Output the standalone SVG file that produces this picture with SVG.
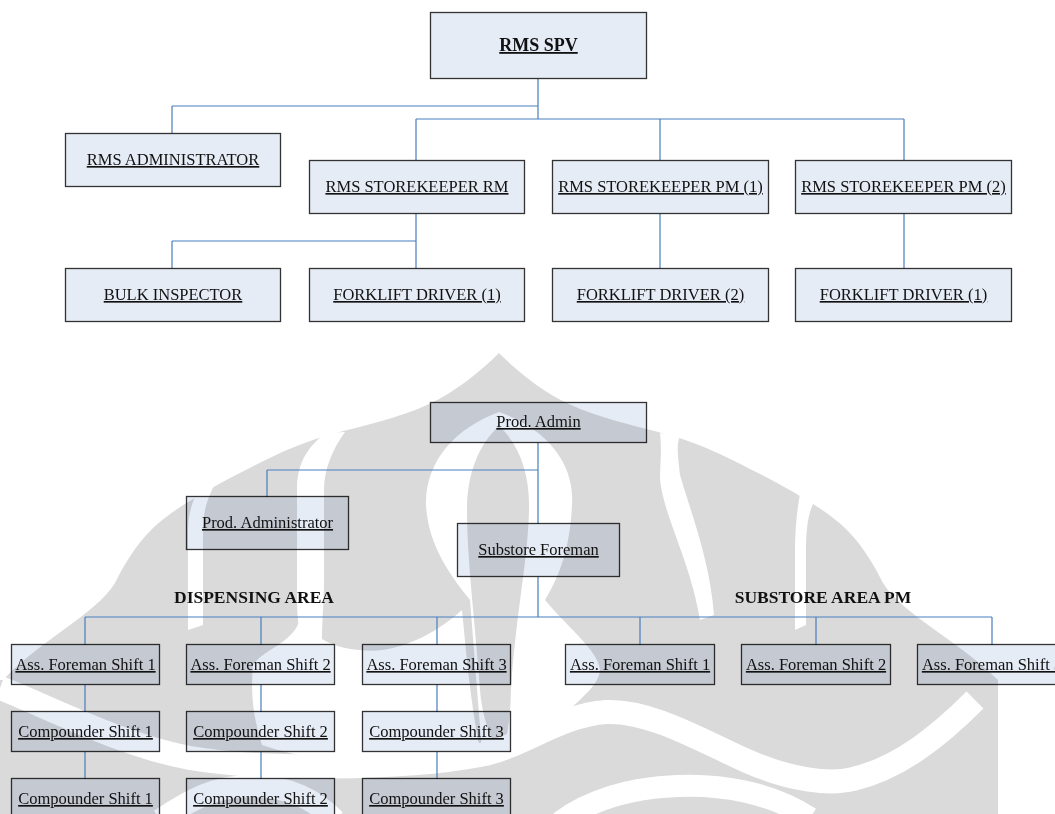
<svg xmlns="http://www.w3.org/2000/svg" width="1055" height="814" viewBox="0 0 1055 814">
<style>
.box{fill:#e6ecf6;stroke:#333;stroke-width:1.3;mix-blend-mode:multiply}
.t{font-family:"Liberation Serif","Times New Roman",serif;font-size:16.5px;fill:#111;text-anchor:middle;text-decoration:underline}
.tb{font-family:"Liberation Serif","Times New Roman",serif;font-size:18px;font-weight:bold;fill:#111;text-anchor:middle;text-decoration:underline}
.lbl{font-family:"Liberation Serif","Times New Roman",serif;font-size:17.5px;font-weight:bold;fill:#111;text-anchor:middle}
.ln{fill:none;stroke:#4a7ebb;stroke-width:1.2}
.wm{fill:#dadada}
.wg{fill:#fff}
.ww{fill:none;stroke:#fff}
</style>
<rect width="1055" height="814" fill="#fff"/>
<g id="watermark">
<path class="wm" d="M499,353 C480,372 455,392 429,404 C400,418 365,425 329,435 C290,446 262,462 236,475 C200,494 172,510 152,529 C135,546 124,565 115,583 C95,615 40,640 3,680 L0,680 L0,814 L998,814 L998,680 C958,640 903,615 883,583 C874,565 863,546 846,529 C826,510 798,494 762,475 C736,462 708,446 669,435 C633,425 598,418 569,404 C543,392 518,372 499,353 Z"/>
<path class="wg" d="M325,433 C305,450 297,465 297,490 L297,600 C297,620 300,640 305,650 L322,640 C322,620 324,600 324,583 L324,490 C324,470 332,450 345,432 Z"/>
<path class="wg" d="M200,488 C192,500 188,515 188,530 L188,630 L203,625 L203,530 C203,515 206,500 215,484 Z"/>
<path class="wg" d="M660,433 C662,450 660,465 660,480 C665,520 690,560 700,620 L714,615 C710,560 690,510 680,475 C678,455 676,445 680,436 Z"/>
<path class="wg" d="M800,494 C797,510 795,530 795,550 L795,630 L806,625 L806,550 C806,530 808,512 815,500 Z"/>
<path class="wg" d="M499,412 C545,428 575,462 572,505 C570,548 560,575 545,600 C570,630 598,650 600,670 C598,690 575,700 540,740 L480,750 C470,700 466,650 462,610 C440,630 400,655 360,650 C330,648 310,635 300,615 C300,640 262,650 253,665 C250,700 255,722 262,745 C330,768 420,768 482,752 L470,600 C450,575 428,545 426,505 C425,462 455,428 499,412 Z"/>
<path class="wm" d="M499,426 C520,445 530,475 529,510 C528,560 515,620 511,690 C510,720 508,740 500,752 C490,740 482,715 480,690 C475,620 467,560 467,510 C467,475 478,445 499,426 Z"/>
<path class="ww" stroke-width="24" d="M0,688 C40,703 120,745 190,758 C260,770 400,770 480,755 C520,748 560,715 606,712 C650,710 700,740 747,761 C790,780 830,785 853,779 C900,768 940,735 975,700"/>
<path class="ww" stroke-width="22" d="M160,820 C190,800 215,786 250,786 C290,786 315,800 335,820"/>
<path class="ww" stroke-width="22" d="M560,822 C590,800 630,788 677,786 C720,784 770,792 810,818"/>
</g>
<g id="connectors">
<path class="ln" d="M538,79 V119 M172,106 H538 M416,119 H904 M416,119 V160 M660,119 V160 M904,119 V160 M172,106 V133 M416,214 V268 M172,241 H416 M172,241 V268 M660,214 V268 M904,214 V268"/>
<path class="ln" d="M538,443 V524 M267,470 H538 M267,470 V497 M538,577 V617 M85,617 H992 M85,617 V645 M261,617 V645 M437,617 V645 M640,617 V645 M816,617 V645 M992,617 V645 M85,685 V712 M261,685 V712 M437,685 V712 M85,752 V779 M261,752 V779 M437,752 V779"/>
</g>
<g id="rms-spv"><rect class="box" x="430.5" y="12.5" width="216" height="66"/><text class="tb" x="538.5" y="51">RMS SPV</text></g>
<g id="rms-administrator"><rect class="box" x="65.5" y="133.5" width="215" height="53"/><text class="t" x="173" y="165">RMS ADMINISTRATOR</text></g>
<g id="rms-storekeeper-rm"><rect class="box" x="309.5" y="160.5" width="215" height="53"/><text class="t" x="417" y="192">RMS STOREKEEPER RM</text></g>
<g id="rms-storekeeper-pm1"><rect class="box" x="552.5" y="160.5" width="216" height="53"/><text class="t" x="660.5" y="192">RMS STOREKEEPER PM (1)</text></g>
<g id="rms-storekeeper-pm2"><rect class="box" x="795.5" y="160.5" width="216" height="53"/><text class="t" x="903.5" y="192">RMS STOREKEEPER PM (2)</text></g>
<g id="bulk-inspector"><rect class="box" x="65.5" y="268.5" width="215" height="53"/><text class="t" x="173" y="300">BULK INSPECTOR</text></g>
<g id="forklift-driver-1"><rect class="box" x="309.5" y="268.5" width="215" height="53"/><text class="t" x="417" y="300">FORKLIFT DRIVER (1)</text></g>
<g id="forklift-driver-2"><rect class="box" x="552.5" y="268.5" width="216" height="53"/><text class="t" x="660.5" y="300">FORKLIFT DRIVER (2)</text></g>
<g id="forklift-driver-1b"><rect class="box" x="795.5" y="268.5" width="216" height="53"/><text class="t" x="903.5" y="300">FORKLIFT DRIVER (1)</text></g>
<g id="prod-admin"><rect class="box" x="430.5" y="402.5" width="216" height="40"/><text class="t" x="538.5" y="427">Prod. Admin</text></g>
<g id="prod-administrator"><rect class="box" x="186.5" y="496.5" width="162" height="53"/><text class="t" x="267.5" y="528">Prod. Administrator</text></g>
<g id="substore-foreman"><rect class="box" x="457.5" y="523.5" width="162" height="53"/><text class="t" x="538.5" y="555">Substore Foreman</text></g>
<g id="label-dispensing"><text class="lbl" x="254" y="603">DISPENSING AREA</text></g>
<g id="label-substore"><text class="lbl" x="823" y="603">SUBSTORE AREA PM</text></g>
<g id="d-af1"><rect class="box" x="11.5" y="644.5" width="148" height="40"/><text class="t" x="85.5" y="670">Ass. Foreman Shift 1</text></g>
<g id="d-af2"><rect class="box" x="186.5" y="644.5" width="148" height="40"/><text class="t" x="260.5" y="670">Ass. Foreman Shift 2</text></g>
<g id="d-af3"><rect class="box" x="362.5" y="644.5" width="148" height="40"/><text class="t" x="436.5" y="670">Ass. Foreman Shift 3</text></g>
<g id="s-af1"><rect class="box" x="565.5" y="644.5" width="149" height="40"/><text class="t" x="640" y="670">Ass. Foreman Shift 1</text></g>
<g id="s-af2"><rect class="box" x="741.5" y="644.5" width="149" height="40"/><text class="t" x="816" y="670">Ass. Foreman Shift 2</text></g>
<g id="s-af3"><rect class="box" x="917.5" y="644.5" width="149" height="40"/><text class="t" x="992" y="670">Ass. Foreman Shift 3</text></g>
<g id="d-c1"><rect class="box" x="11.5" y="711.5" width="148" height="40"/><text class="t" x="85.5" y="737">Compounder Shift 1</text></g>
<g id="d-c2"><rect class="box" x="186.5" y="711.5" width="148" height="40"/><text class="t" x="260.5" y="737">Compounder Shift 2</text></g>
<g id="d-c3"><rect class="box" x="362.5" y="711.5" width="148" height="40"/><text class="t" x="436.5" y="737">Compounder Shift 3</text></g>
<g id="d-c1b"><rect class="box" x="11.5" y="778.5" width="148" height="40"/><text class="t" x="85.5" y="804">Compounder Shift 1</text></g>
<g id="d-c2b"><rect class="box" x="186.5" y="778.5" width="148" height="40"/><text class="t" x="260.5" y="804">Compounder Shift 2</text></g>
<g id="d-c3b"><rect class="box" x="362.5" y="778.5" width="148" height="40"/><text class="t" x="436.5" y="804">Compounder Shift 3</text></g>
</svg>
